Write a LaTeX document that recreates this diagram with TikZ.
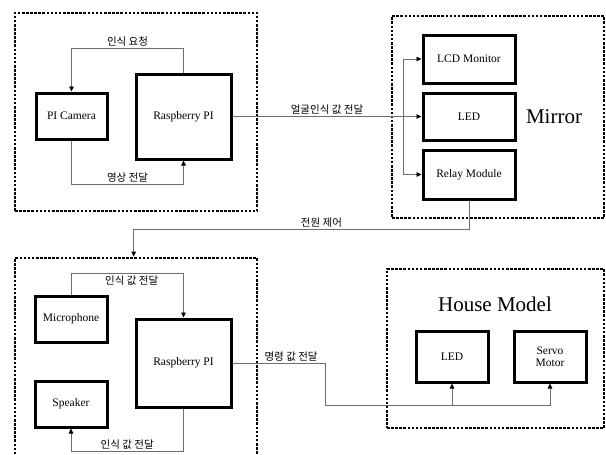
\documentclass[tikz,border=0pt]{standalone}
\usepackage{fontspec}
\setmainfont{Liberation Serif}
\newfontfamily\kofont{Noto Sans CJK KR}
\usetikzlibrary{arrows.meta,positioning,calc}
\definecolor{linkGray}{HTML}{6E6E6E}

\begin{document}
\begin{tikzpicture}[x=1pt,y=-1pt,font=\fontsize{11.5}{12.5}\selectfont,
  part/.style={draw,line width=3pt,inner sep=2pt,align=center},
  group/.style={draw,line width=2.6pt,dash pattern=on 2.6pt off 1.5pt,inner sep=0pt},
  link/.style={draw=linkGray,line width=0.9pt,-{Triangle[length=5pt,width=4.5pt,color=black]}},
  lbl/.style={font=\kofont\fontsize{10.5}{11}\selectfont,inner sep=1.5pt}]
  \useasboundingbox (0,0) rectangle (606,455);
  % dotted groups
  \node[group,minimum width=242pt,minimum height=198pt] (grpA) at (136,112) {};
  \node[group,minimum width=212pt,minimum height=202pt] (grpB) at (498,117) {};
  \node[group,minimum width=242pt,minimum height=212pt] (grpC) at (136,364) {};
  \node[group,minimum width=217pt,minimum height=159pt] (grpD) at (495.5,348.5) {};
  % top left
  \node[part,minimum width=71pt,minimum height=46pt] (cam) at (71.5,116) {PI Camera};
  \node[part,minimum width=95pt,minimum height=85pt] (rpA) at (183.5,116.5) {Raspberry PI};
  % mirror
  \node[part,minimum width=92pt,minimum height=48pt] (lcd) at (469,59) {LCD Monitor};
  \node[part,minimum width=92pt,minimum height=47pt] (led) at (469,116.5) {LED};
  \node[part,minimum width=92pt,minimum height=49pt] (relay) at (469,174.5) {Relay Module};
  \node[font=\fontsize{21}{23}\selectfont] (mirror) at (554,117) {Mirror};
  % bottom left
  \node[part,minimum width=72pt,minimum height=46pt] (mic) at (71,319) {Microphone};
  \node[part,minimum width=72pt,minimum height=46pt] (spk) at (71,404) {Speaker};
  \node[part,minimum width=95pt,minimum height=88pt] (rpB) at (183.5,363) {Raspberry PI};
  % house model
  \node[font=\fontsize{21}{23}\selectfont] (house) at (495,304) {House Model};
  \node[part,minimum width=72pt,minimum height=51pt] (hled) at (452,356.5) {LED};
  \node[part,minimum width=72pt,minimum height=51pt] (servo) at (550,356.5) {Servo\\Motor};

  \draw[link] (rpA.north) -- ++(0,-24) -| node[lbl,pos=0.25,above] {인식 요청} (cam.north);
  \draw[link] (cam.south) -- ++(0,44) -| node[lbl,pos=0.25,above] {영상 전달} (rpA.south);
  \draw[link] (rpA.east) -- node[lbl,midway,above] {얼굴인식 값 전달} (led.west);
  \coordinate (bus) at (403,116.5);
  \draw[link] (bus) |- (lcd.west);
  \draw[link] (bus) |- (relay.west);
  \draw[link] (relay.south) -- ++(0,29) -| node[lbl,pos=0.22,above] {전원 제어}
    ([xshift=120pt]grpC.north west);

  \draw[link] (mic.north) -- ++(0,-21) -| node[lbl,pos=0.27,below] {인식 값 전달} (rpB.north);
  \draw[link] (rpB.south) -- ++(0,43) -| node[lbl,pos=0.25,above] {인식 값 전달} (spk.south);
  \draw[link] (rpB.east) -- node[lbl,pos=0.63,above] {명령 값 전달} ++(93,0)
    |- ([yshift=-22pt]servo.south) -- (servo.south);
  \draw[link] ([yshift=-22pt]hled.south) -- (hled.south);
\end{tikzpicture}
\end{document}
